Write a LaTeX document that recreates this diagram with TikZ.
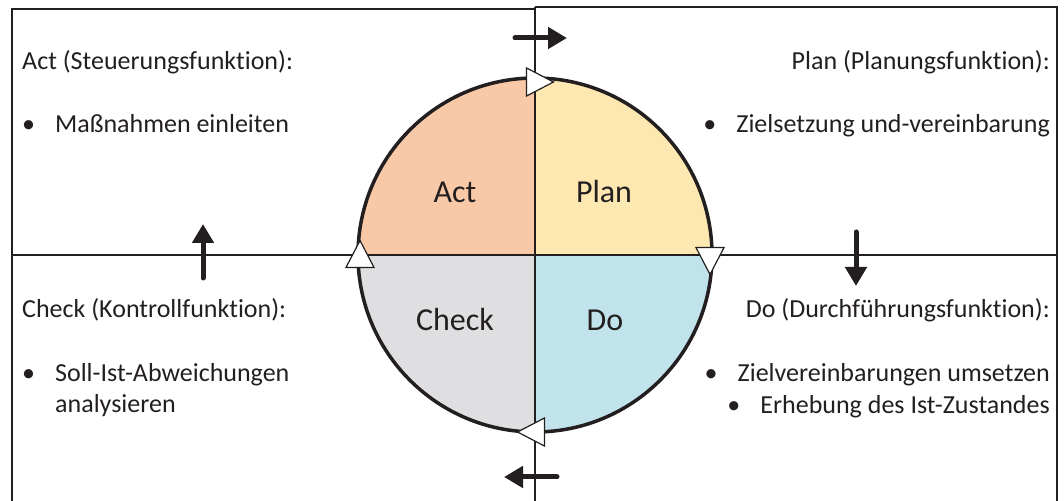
\documentclass[tikz,border=0pt]{standalone}
\usepackage{fontspec}
\setmainfont{Carlito}[Ligatures=NoCommon]
\usetikzlibrary{shapes.geometric, arrows.meta}
\definecolor{actcolor}{HTML}{F9C9A7}
\definecolor{plancolor}{HTML}{FEE8B2}
\definecolor{checkcolor}{HTML}{DFDFE1}
\definecolor{docolor}{HTML}{C1E3EB}
\definecolor{inkgray}{HTML}{231F20}
\newcommand{\bulletitem}[1]{\textbullet\hspace{20pt}#1}

\begin{document}
\begin{tikzpicture}[
    x=1pt, y=1pt,
    frame/.style={line width=2.5pt, inkgray},
    desc/.style={font=\fontsize{26}{31}\selectfont, text=inkgray, inner sep=0pt},
    phase/.style={font=\fontsize{32}{38}\selectfont, text=inkgray, inner sep=0pt, anchor=base},
    marker/.style={isosceles triangle, isosceles triangle apex angle=55, draw=inkgray,
                   fill=white, line width=1.2pt, minimum height=27pt, inner sep=0pt},
    flow/.style={line width=5pt, line cap=round, inkgray, -{Triangle[width=21pt,length=19pt]}},
]
\useasboundingbox (0,0) rectangle (1064,500);
\coordinate (c) at (535,245);

% Quadrants
\fill[actcolor] (c) -- ++(180:177) arc[start angle=180, end angle=90, radius=177] -- cycle;
\fill[plancolor] (c) -- ++(90:177) arc[start angle=90, end angle=0, radius=177] -- cycle;
\fill[docolor] (c) -- ++(0:177) arc[start angle=0, end angle=-90, radius=177] -- cycle;
\fill[checkcolor] (c) -- ++(-90:177) arc[start angle=-90, end angle=-180, radius=177] -- cycle;

% Frame and cross
\draw[frame] (12,-5) -- (12,491) -- (535,491);
\draw[frame] (535,493) -- (1057,493) -- (1057,-5);
\draw[frame] (535,-5) -- (535,493);
\draw[frame] (12,245) -- (1057,245);
\draw[frame, line width=3.5pt] (c) circle[radius=177];

% Phases
\node[phase] (act) at (455,297) {Act};
\node[phase] (plan) at (604,297) {Plan};
\node[phase] (check) at (455,169) {Check};
\node[phase] (do) at (605,169) {Do};

% Markers on the circle
\node[marker] (mplan) at (535,418) {};
\node[marker, shape border rotate=-90] (mdo) at (710,244) {};
\node[marker, shape border rotate=180] (mcheck) at (536,68) {};
\node[marker, shape border rotate=90] (mact) at (360,241) {};

% Flow arrows
\coordinate (ta) at (515,462); \coordinate (tb) at (567,462);
\coordinate (ra) at (856,268); \coordinate (rb) at (856,214);
\coordinate (ba) at (557,23);  \coordinate (bb) at (504,23);
\coordinate (la) at (203,222); \coordinate (lb) at (203,276);
\draw[flow] (ta) -- (tb);
\draw[flow] (ra) -- (rb);
\draw[flow] (ba) -- (bb);
\draw[flow] (la) -- (lb);

% Descriptions
\node[desc, anchor=base west] (acthead) at (22,430) {Act (Steuerungsfunktion):};
\node[desc, anchor=base west] (actitem) at (22,367) {\bulletitem{Maßnahmen einleiten}};
\node[desc, anchor=base east] (planhead) at (1050,430) {Plan (Planungsfunktion):};
\node[desc, anchor=base east] (planitem) at (1050,367) {\bulletitem{Zielsetzung und-vereinbarung}};
\node[desc, anchor=base west] (checkhead) at (22,182) {Check (Kontrollfunktion):};
\node[desc, anchor=base west] (checkitem) at (22,118) {\bulletitem{Soll-Ist-Abweichungen}};
\node[desc, anchor=base west] (checkitemb) at (55,87) {analysieren};
\node[desc, anchor=base east] (dohead) at (1050,182) {Do (Durchführungsfunktion):};
\node[desc, anchor=base east] (doitema) at (1050,118) {\bulletitem{Zielvereinbarungen umsetzen}};
\node[desc, anchor=base east] (doitemb) at (1050,86) {\bulletitem{Erhebung des Ist-Zustandes}};

\end{tikzpicture}
\end{document}
